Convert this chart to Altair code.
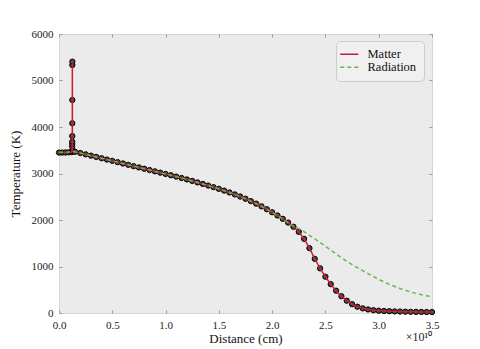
import altair as alt
import pandas as pd

# ---- data ----
pre_dist = [0.00, 0.03, 0.06, 0.09, 0.12]
pre_matter = [3450, 3450, 3452, 3455, 3460]
pre_radiation = [3455, 3455, 3457, 3460, 3465]

spike_dist = [0.1240, 0.1242, 0.1244, 0.1246, 0.1248, 0.1250, 0.1252, 0.1254, 0.1260, 0.1300]
spike_matter = [3577, 3634, 3684, 3806, 4080, 4580, 5333, 5405, 3485, 3480]

dist = [0.15, 0.20, 0.25, 0.30, 0.35, 0.40, 0.45, 0.50, 0.55, 0.60, 0.65, 0.70,
        0.75, 0.80, 0.85, 0.90, 0.95, 1.00, 1.05, 1.10, 1.15, 1.20, 1.25, 1.30,
        1.35, 1.40, 1.45, 1.50, 1.55, 1.60, 1.65, 1.70, 1.75, 1.80, 1.85, 1.90,
        1.95, 2.00, 2.05, 2.10, 2.15, 2.20, 2.25, 2.30, 2.35, 2.40, 2.45, 2.50,
        2.55, 2.60, 2.65, 2.70, 2.75, 2.80, 2.85, 2.90, 2.95, 3.00, 3.05, 3.10,
        3.15, 3.20, 3.25, 3.30, 3.35, 3.40, 3.45, 3.50]
matter = [3468, 3440, 3412, 3384, 3356, 3328, 3300, 3272, 3244, 3215, 3186, 3158,
          3130, 3102, 3074, 3046, 3018, 2990, 2962, 2933, 2903, 2872, 2840, 2808,
          2775, 2741, 2706, 2670, 2632, 2592, 2550, 2505, 2457, 2406, 2352, 2294,
          2232, 2166, 2097, 2025, 1945, 1855, 1745, 1595, 1395, 1165, 960, 780,
          620, 480, 360, 265, 190, 135, 100, 76, 60, 50, 43, 38,
          34, 31, 28, 26, 24, 22, 21, 20]
radiation = [3468, 3440, 3412, 3384, 3356, 3328, 3300, 3272, 3244, 3215, 3186, 3158,
             3130, 3102, 3074, 3046, 3018, 2990, 2962, 2933, 2903, 2872, 2840, 2808,
             2775, 2741, 2706, 2670, 2632, 2592, 2550, 2505, 2457, 2406, 2352, 2294,
             2232, 2166, 2097, 2025, 1945, 1870, 1815, 1748, 1672, 1595, 1515, 1435,
             1352, 1270, 1190, 1112, 1040, 975, 910, 845, 785, 725, 668, 615,
             570, 527, 488, 452, 422, 395, 370, 350]

series_names = ["Matter", "Radiation"]
series_colors = ["#c41e3a", "#6ab54a"]
x_ticks = [0.0, 0.5, 1.0, 1.5, 2.0, 2.5, 3.0, 3.5]
y_ticks = [0, 1000, 2000, 3000, 4000, 5000, 6000]

m_x = pre_dist + spike_dist + dist
m_y = pre_matter + spike_matter + matter
r_x = pre_dist + dist
r_y = pre_radiation + radiation

df_m = pd.DataFrame({"dist": m_x, "T": m_y, "series": "Matter", "i": list(range(len(m_x)))})
df_r = pd.DataFrame({"dist": r_x, "T": r_y, "series": "Radiation", "i": list(range(len(r_x)))})

FONT = "Liberation Serif"

xscale = alt.Scale(domain=[0, 3.5], nice=False, zero=False)
yscale = alt.Scale(domain=[0, 6000], nice=False)

x_main = alt.X("dist:Q", scale=xscale, axis=alt.Axis(
    values=x_ticks, format=".1f", title="Distance (cm)", offset=-3, tickSize=3,
    labelPadding=6, titlePadding=2, labelFlush=False, domain=False, grid=False))
y_main = alt.Y("T:Q", scale=yscale, axis=alt.Axis(
    values=y_ticks, format="d", title="Temperature (K)", offset=-3, tickSize=3,
    labelPadding=6, titlePadding=9, labelFlush=False, domain=False, grid=False))

color = alt.Color("series:N", scale=alt.Scale(domain=series_names, range=series_colors),
                  legend=alt.Legend(title=None))
dash = alt.StrokeDash("series:N", scale=alt.Scale(domain=series_names, range=[[1, 0], [4, 3]]),
                      legend=alt.Legend(title=None))

points = alt.Chart(df_m).mark_point(
    filled=True, fill="#4a4a4a", stroke="black", strokeWidth=1, size=28, opacity=1
).encode(x=x_main, y=y_main)

line_m = alt.Chart(df_m).mark_line(strokeWidth=1.5).encode(
    x=alt.X("dist:Q", scale=xscale, axis=None),
    y=alt.Y("T:Q", scale=yscale, axis=None),
    color=color, strokeDash=dash, order=alt.Order("i:Q"))

line_r = alt.Chart(df_r).mark_line(strokeWidth=1.5).encode(
    x=alt.X("dist:Q", scale=xscale, axis=alt.Axis(
        orient="top", values=x_ticks, labels=False, title=None, offset=-3,
        tickSize=3, domain=False, grid=False)),
    y=alt.Y("T:Q", scale=yscale, axis=alt.Axis(
        orient="right", values=y_ticks, labels=False, title=None, offset=-3,
        tickSize=3, domain=False, grid=False)),
    color=color, strokeDash=dash, order=alt.Order("i:Q"))

offset_label = alt.Chart(pd.DataFrame({"t": ["×10¹⁰"]})).mark_text(
    font=FONT, fontSize=12, color="#222222", align="center", baseline="middle"
).encode(text="t:N", x=alt.value(360), y=alt.value(303))

chart = alt.layer(points, line_m, line_r, offset_label).resolve_axis(
    x="independent", y="independent"
).properties(
    width=373, height=279, autosize="none",
    padding={"left": 51, "top": 26, "right": 40, "bottom": 35},
).configure_view(
    fill="#ebebeb", stroke="#d6d6d6", strokeWidth=1
).configure_axis(
    labelFont=FONT, titleFont=FONT, labelFontSize=11, titleFontSize=13,
    labelColor="#222222", titleColor="#111111", titleFontWeight="normal",
    tickColor="#999999", tickWidth=1
).configure_legend(
    orient="none", legendX=277, legendY=7, labelFont=FONT, labelFontSize=12.5,
    labelColor="#111111", symbolType="M-2,0L2,0", symbolSize=81, symbolStrokeWidth=1.5,
    labelOffset=12, padding=7, rowPadding=-2, fillColor="#f0f0f0",
    strokeColor="#cccccc", cornerRadius=4
)

chart.save("out.html", embed_options={"renderer": "svg", "actions": False})
